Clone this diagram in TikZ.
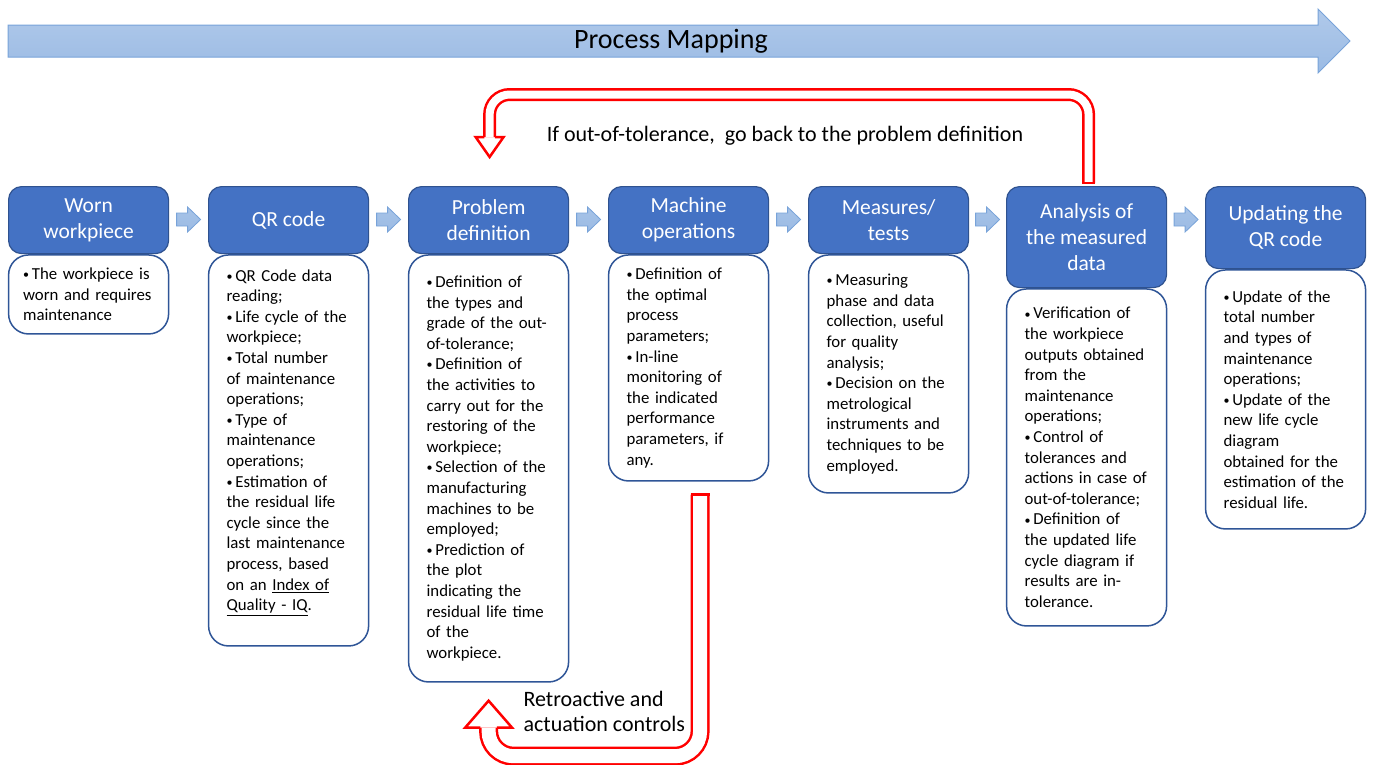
\documentclass[tikz,border=0pt]{standalone}
\usepackage{fontspec}
\setmainfont{Carlito}
\usetikzlibrary{positioning,calc}

\definecolor{hdrblue}{RGB}{68,114,196}
\definecolor{hdrline}{RGB}{47,82,143}
\definecolor{bdyline}{RGB}{47,85,151}
\definecolor{bantop}{RGB}{176,201,234}
\definecolor{banbot}{RGB}{155,187,228}
\definecolor{banline}{RGB}{120,163,217}

% small bullet as in the list boxes
\newcommand{\itembul}{\raisebox{.12ex}{\fontsize{12}{12}\selectfont•}\,}

\begin{document}
\begin{tikzpicture}
  [x=1pt,y=-1pt,
   hdr/.style={draw=hdrline,fill=hdrblue,line width=1.2pt,rounded corners=13pt,
     anchor=north west,minimum width=160pt,minimum height=67pt,align=center,
     text=white,inner sep=2pt,font=\fontsize{21.5}{25.7}\selectfont},
   bdy/.style={draw=bdyline,fill=white,line width=1.5pt,rounded corners=20pt,
     text width=124pt,inner xsep=18pt,inner ysep=3pt,align=left,
     font=\fontsize{16.8}{20.6}\selectfont},
   banner/.style={draw=banline,line width=1pt,top color=bantop,bottom color=banbot},
   flowarr/.style={draw=banline,line width=.8pt,top color=bantop,bottom color=banbot},
   fbpipe/.style={draw=red,line width=2.5pt,double=white,rounded corners=20pt},
   fbline/.style={draw=red,line width=2.5pt},
   lbl/.style={font=\fontsize{22}{25}\selectfont}]
  \useasboundingbox (0,0) rectangle (1373,764);

  % process mapping banner
  \draw[banner] (8,25) -- (1318,25) -- (1318,9) -- (1350,41) -- (1318,73)
    -- (1318,57) -- (8,57) -- cycle;
  \node[font=\fontsize{28}{32}\selectfont] (title) at (671,41) {Process Mapping};

  % steps
  \node[hdr] (h1) at (8,186) {Worn\\workpiece};
  \node[hdr] (h2) at (208,186) {QR code};
  \node[hdr] (h3) at (408,186) {Problem\\definition};
  \node[hdr] (h4) at (608,186) {Machine\\operations};
  \node[hdr] (h5) at (808,186) {Measures/\\tests};
  \node[hdr,minimum height=101pt] (h6) at (1006,186) {Analysis of\\the measured\\data};
  \node[hdr,minimum height=82pt] (h7) at (1205,186) {Updating the\\QR code};

  \node[bdy,below=0pt of h1,minimum height=79pt,text width=131pt,inner xsep=14.5pt] (b1)
    {\itembul The workpiece is\\worn and requires\\maintenance};
  \node[bdy,below=0pt of h2,minimum height=391pt] (b2)
    {\itembul QR Code data\\reading;\\\itembul Life cycle of the\\workpiece;\\\itembul Total number\\
     of maintenance\\operations;\\\itembul Type of\\maintenance\\operations;\\\itembul Estimation of\\
     the residual life\\cycle since the\\last maintenance\\process, based\\on an \underline{Index of}\\
     \underline{Quality - IQ}.\\\mbox{}};
  \node[bdy,below=0pt of h3,minimum height=427pt] (b3)
    {\itembul Definition of\\the types and\\grade of the out-\\of-tolerance;\\\itembul Definition of\\
     the activities to\\carry out for the\\restoring of the\\workpiece;\\\itembul Selection of the\\
     manufacturing\\machines to be\\employed;\\\itembul Prediction of\\the plot\\indicating the\\
     residual life time\\of the\\workpiece.};
  \node[bdy,below=0pt of h4,minimum height=226pt] (b4)
    {\itembul Definition of\\the optimal\\process\\parameters;\\\itembul In-line\\monitoring of\\
     the indicated\\performance\\parameters, if\\any.};
  \node[bdy,below=0pt of h5,minimum height=238pt] (b5)
    {\itembul Measuring\\phase and data\\collection, useful\\for quality\\analysis;\\
     \itembul Decision on the\\metrological\\instruments and\\techniques to be\\employed.};
  \node[bdy,below=0pt of h6,minimum height=337pt] (b6)
    {\itembul Verification of\\the workpiece\\outputs obtained\\from the\\maintenance\\operations;\\
     \itembul Control of\\tolerances and\\actions in case of\\out-of-tolerance;\\\itembul Definition of\\
     the updated life\\cycle diagram if\\results are in-\\tolerance.};
  \node[bdy,below=0pt of h7,minimum height=259pt] (b7)
    {\itembul Update of the\\total number\\and types of\\maintenance\\operations;\\\itembul Update of the\\
     new life cycle\\diagram\\obtained for the\\estimation of the\\residual life.};

  % block arrows between steps
  \foreach \from/\to in {h1/h2,h2/h3,h3/h4,h4/h5,h5/h6,h6/h7}
    \draw[flowarr] ($(\from.north east)!.5!(\to.north west)$) ++(-12,27) -- ++(11,0)
      -- ++(0,-6) -- ++(13,12.5) -- ++(-13,12.5) -- ++(0,-6) -- ++(-11,0) -- cycle;

  % feedback: out-of-tolerance
  \draw[fbpipe,double distance=8pt] ([xshift=2pt,yshift=3pt]h6.north) coordinate (fbt1)
    -- ++(0,-88.5) -| ([xshift=1pt,yshift=49pt]h3.north) coordinate (fbt2);
  \draw[fbline] ([xshift=-6.5pt]fbt1) -- ([xshift=6.5pt]fbt1);
  \draw[fbline] ([xshift=-5.25pt]fbt2) -- ([xshift=-14pt]fbt2) -- ([yshift=-20pt]fbt2)
    -- ([xshift=14pt]fbt2) -- ([xshift=5.25pt]fbt2);
  \node[lbl] (lbltop) at (785,136) {If out-of-tolerance,\ \ go back to the problem definition};

  % feedback: retroactive controls
  \draw[fbpipe,double distance=14pt,rounded corners=25pt] ([xshift=11.5pt,yshift=-13pt]b4.south)
    coordinate (fbb1) -- ++(0,261.5) -| ([yshift=-45pt]b3.south) coordinate (fbb2);
  \draw[fbline] ([xshift=-9.5pt]fbb1) -- ([xshift=9.5pt]fbb1);
  \draw[fbline] ([xshift=-8.25pt]fbb2) -- ([xshift=-23.5pt]fbb2) -- ([yshift=27pt]fbb2)
    -- ([xshift=23.5pt]fbb2) -- ([xshift=8.25pt]fbb2);
  \node[lbl,anchor=west,align=left] (lblbot) at (520,711) {Retroactive and\\actuation controls};

\end{tikzpicture}
\end{document}
